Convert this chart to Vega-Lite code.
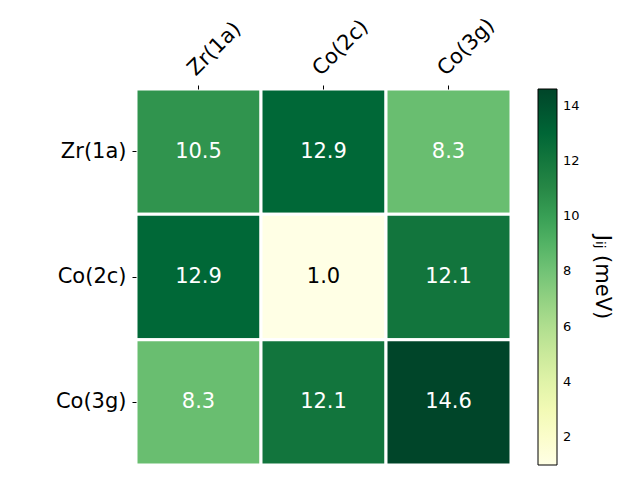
{
  "$schema": "https://vega.github.io/schema/vega-lite/v6.json",
  "autosize": {"type": "none"},
  "padding": {"left": 136, "top": 89, "right": 129, "bottom": 15},
  "width": 375,
  "height": 376,
  "config": {
    "view": {"stroke": null},
    "font": "DejaVu Sans",
    "axis": {"labelFont": "DejaVu Sans", "labelColor": "black", "tickColor": "black", "grid": false}
  },
  "data": {
    "values": [
      {"row": "Zr(1a)", "col": "Zr(1a)", "J": 10.5},
      {"row": "Zr(1a)", "col": "Co(2c)", "J": 12.9},
      {"row": "Zr(1a)", "col": "Co(3g)", "J": 8.3},
      {"row": "Co(2c)", "col": "Zr(1a)", "J": 12.9},
      {"row": "Co(2c)", "col": "Co(2c)", "J": 1.0},
      {"row": "Co(2c)", "col": "Co(3g)", "J": 12.1},
      {"row": "Co(3g)", "col": "Zr(1a)", "J": 8.3},
      {"row": "Co(3g)", "col": "Co(2c)", "J": 12.1},
      {"row": "Co(3g)", "col": "Co(3g)", "J": 14.6}
    ]
  },
  "layer": [
    {
      "mark": {"type": "rect", "stroke": "white", "strokeWidth": 3},
      "encoding": {
        "x": {"field": "col", "type": "nominal", "sort": ["Zr(1a)", "Co(2c)", "Co(3g)"], "title": null,
          "scale": {"paddingInner": 0, "paddingOuter": 0},
          "axis": {"orient": "top", "labelAngle": -45, "labelAlign": "left", "labelBaseline": "middle", "labelFontSize": 21, "domain": false, "tickSize": 4, "labelPadding": 13, "labelOffset": -7}},
        "y": {"field": "row", "type": "nominal", "sort": ["Zr(1a)", "Co(2c)", "Co(3g)"], "title": null,
          "scale": {"paddingInner": 0, "paddingOuter": 0},
          "axis": {"orient": "left", "labelAngle": 0, "labelFontSize": 21, "domain": false, "tickSize": 4, "labelPadding": 6}},
        "color": {"field": "J", "type": "quantitative",
          "scale": {"domain": [1.0, 14.6], "range": ["#ffffe5", "#f7fcb9", "#d9f0a3", "#addd8e", "#78c679", "#41ab5d", "#238443", "#006837", "#004529"]},
          "legend": {"title": "Jᵢⱼ (meV)", "orient": "right", "offset": 27, "gradientLength": 376, "gradientThickness": 19,
            "gradientStrokeColor": "black", "gradientStrokeWidth": 1, "values": [2, 4, 6, 8, 10, 12, 14],
            "labelFontSize": 13, "labelColor": "black", "labelFont": "DejaVu Sans", "labelOverlap": false, "labelOffset": 6,
            "titleOrient": "right", "titleAngle": 90, "titleFontSize": 21, "titleFontWeight": "normal", "titleFont": "DejaVu Sans", "titlePadding": 12, "titleAnchor": "middle", "titleBaseline": "bottom"}}
      }
    },
    {
      "mark": {"type": "text", "fontSize": 21, "font": "DejaVu Sans"},
      "encoding": {
        "x": {"field": "col", "type": "nominal", "sort": ["Zr(1a)", "Co(2c)", "Co(3g)"]},
        "y": {"field": "row", "type": "nominal", "sort": ["Zr(1a)", "Co(2c)", "Co(3g)"],
          "axis": {"orient": "right", "labels": false, "ticks": false, "domain": true, "domainColor": "black", "title": null}},
        "text": {"field": "J", "type": "quantitative", "format": ".1f"},
        "color": {"condition": {"test": "datum.J < 5", "value": "black"}, "value": "white"}
      }
    }
  ],
  "resolve": {"axis": {"y": "independent"}}
}
